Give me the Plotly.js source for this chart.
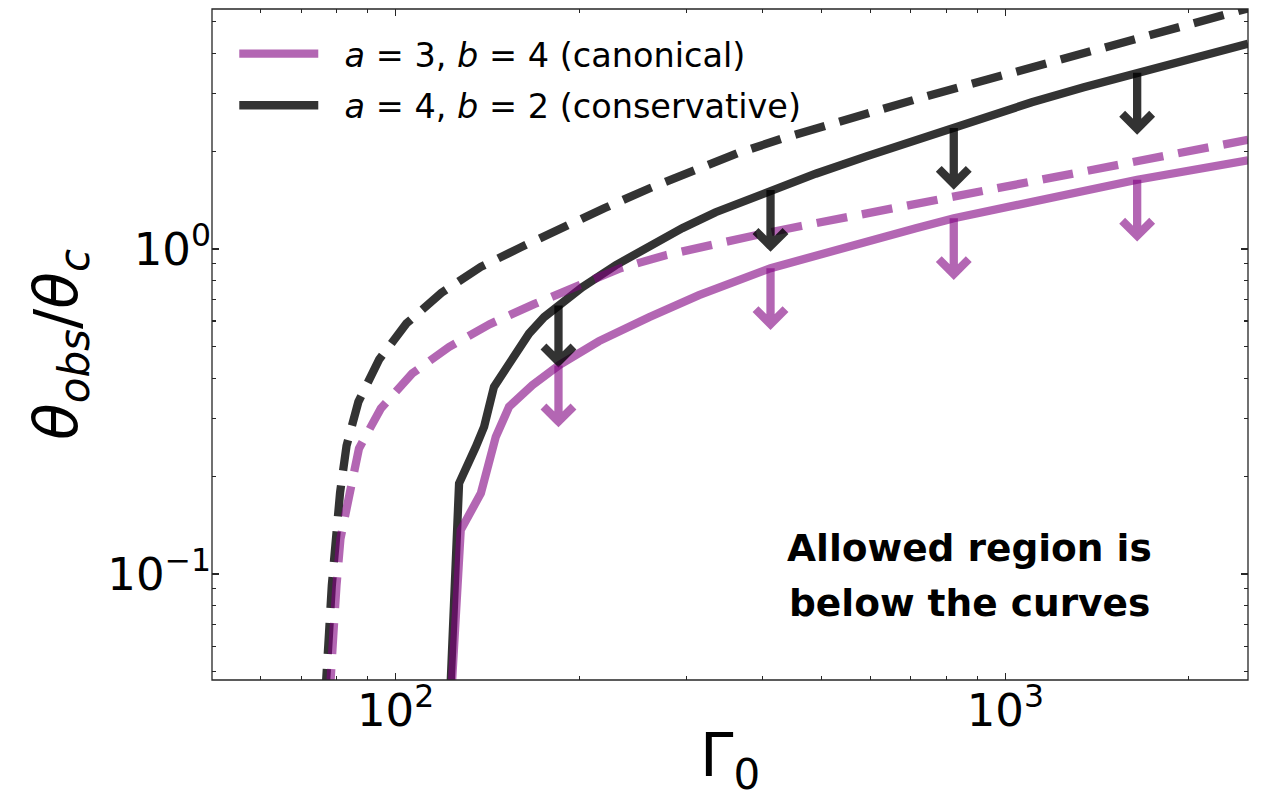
<!DOCTYPE html>
<html>
<head>
<meta charset="utf-8">
<script src="https://cdn.plot.ly/plotly-3.0.1.min.js"></script>
<style>html,body{margin:0;padding:0;background:#fff;}</style>
</head>
<body>
<div id="chart" style="width:1261px;height:797px;"></div>
<script>
// Upper limit on theta_obs/theta_c versus initial Lorentz factor Gamma_0.
// a = 4, b = 2 (conservative), dashed branch
const gammaConsDashed = [76.6, 76.85, 77.8, 78.6, 79.8, 81.1, 83.1, 86.9, 94.0, 104.2, 118.9, 138.0,
  160.4, 187.7, 220.3, 261.1, 308.6, 364.3, 431.8, 510.5, 602.6, 714.2, 844.6, 1001, 1181, 1397,
  1660, 1962, 2340, 2500];
const ratioConsDashed = [0.0410, 0.0501, 0.0662, 0.0920, 0.1281, 0.1783, 0.2480, 0.3386, 0.4571, 0.5898,
  0.7323, 0.8805, 1.011, 1.164, 1.336, 1.537, 1.754, 1.971, 2.189, 2.409, 2.638, 2.887, 3.151, 3.446,
  3.757, 4.098, 4.475, 4.873, 5.326, 5.495];

// a = 4, b = 2 (conservative), solid branch
const gammaConsSolid = [122.8, 127.1, 135.4, 139.7, 145.0, 155.4, 165.5, 175.2, 185.4, 202.4, 229.6,
  260.4, 295.2, 334.9, 412.2, 488.6, 590.0, 712.5, 823.4, 1105, 1345, 1645, 1999, 2500];
const ratioConsSolid = [0.0410, 0.190, 0.2462, 0.2837, 0.3764, 0.4613, 0.5489, 0.6166, 0.6714, 0.7626,
  0.8910, 1.023, 1.158, 1.297, 1.518, 1.703, 1.923, 2.162, 2.357, 2.825, 3.141, 3.480, 3.848, 4.274];

// a = 3, b = 4 (canonical), dashed branch
const gammaCanonDashed = [77.9, 78.2, 79.1, 80.0, 81.2, 84.1, 87.1, 94.6, 106.5, 122.4, 142.7, 168.7,
  197.9, 233.9, 277.3, 328.7, 389.5, 462.6, 550.4, 652.4, 770.0, 918.6, 1089, 1295, 1539, 1835, 2170, 2500];
const ratioCanonDashed = [0.0410, 0.0501, 0.0662, 0.0920, 0.1281, 0.1771, 0.2434, 0.3231, 0.414, 0.4996,
  0.587, 0.6761, 0.7679, 0.8725, 0.9564, 1.030, 1.102, 1.176, 1.254, 1.338, 1.423, 1.519, 1.617, 1.721,
  1.830, 1.948, 2.066, 2.166];

// a = 3, b = 4 (canonical), solid branch
const gammaCanonSolid = [123.3, 127.9, 138.0, 146.0, 153.5, 167.6, 185.4, 215.6, 260.4, 314.5, 412.2,
  489.0, 590.6, 713.3, 823.4, 1157, 1645, 2500];
const ratioCanonSolid = [0.0410, 0.1365, 0.1771, 0.2643, 0.3268, 0.3811, 0.4390, 0.5204, 0.6166, 0.7204,
  0.8725, 0.9564, 1.052, 1.158, 1.243, 1.421, 1.632, 1.874];

// Gamma_0 values where the "upper limit" arrows hang off the solid curves
const arrowGamma = [185, 412, 823, 1645];

const xTickVals = [100, 1000];
const xTickText = ['10<sup>2</sup>', '10<sup>3</sup>'];
const yTickVals = [0.1, 1];
const yTickText = ['10<sup>\u22121</sup>', '10<sup>0</sup>'];

const seriesNames = {
  canonical: '\u00A0\u00A0<i>a</i> = 3, <i>b</i> = 4 (canonical)',
  conservative: '\u00A0\u00A0<i>a</i> = 4, <i>b</i> = 2 (conservative)'
};
const xTitle = '\u0393<sub>0</sub>';
const yTitle = '<i>\u03B8<sub>obs</sub></i>/<i>\u03B8<sub>c</sub></i>';
const noteLines = ['Allowed region is', 'below the curves'];

// ---- styling ----
const COLOR_CANON = 'rgba(128,0,128,0.6)';
const COLOR_CONS = 'rgba(0,0,0,0.8)';
const LW = 8.3;
const DASH = '31px,15px';
const AXIS_COLOR = '#262626';
const FONT = 'DejaVu Sans, sans-serif';

const X_RANGE = [50, 2500];
const Y_RANGE = [0.0472, 5.47];

// arrow geometry in decades (log10 units)
const ARROW_DROP_DEC = 0.172;   // shaft length
const HEAD_DX_DEC = 0.0246;     // half-width of the chevron
const HEAD_DY_DEC = 0.0461;     // height of the chevron arms

function logInterp(xs, ys, x) {
  const lx = Math.log10(x);
  for (let i = 0; i < xs.length - 1; i++) {
    const l0 = Math.log10(xs[i]), l1 = Math.log10(xs[i + 1]);
    if (lx >= l0 && lx <= l1) {
      const t = (lx - l0) / (l1 - l0);
      return Math.pow(10, Math.log10(ys[i]) + t * (Math.log10(ys[i + 1]) - Math.log10(ys[i])));
    }
  }
  return ys[ys.length - 1];
}

function arrowTrace(xs, ys, color) {
  const px = [], py = [];
  arrowGamma.forEach(function (g, k) {
    const y0 = logInterp(xs, ys, g);
    const ly = Math.log10(y0) - ARROW_DROP_DEC;
    const tip = Math.pow(10, ly);
    const armY = Math.pow(10, ly + HEAD_DY_DEC);
    const left = Math.pow(10, Math.log10(g) - HEAD_DX_DEC);
    const right = Math.pow(10, Math.log10(g) + HEAD_DX_DEC);
    // one continuous stroke per arrow: shaft, left arm, back to tip, right arm
    px.push(g, g, left, g, right);
    py.push(y0, tip, armY, tip, armY);
    if (k < arrowGamma.length - 1) { px.push(null); py.push(null); }
  });
  return { px: px, py: py, color: color };
}

function minorTicks(lo, hi) {
  const out = [];
  for (let e = Math.floor(Math.log10(lo)); e <= Math.ceil(Math.log10(hi)); e++) {
    for (let d = 2; d <= 9; d++) {
      const v = d * Math.pow(10, e);
      if (v >= lo && v <= hi) out.push(v);
    }
  }
  return out;
}

const traces = [
  { x: gammaConsDashed, y: ratioConsDashed, mode: 'lines', showlegend: false, hoverinfo: 'skip',
    line: { color: COLOR_CONS, width: LW, dash: DASH } },
  { x: gammaConsSolid, y: ratioConsSolid, mode: 'lines', name: seriesNames.conservative,
    legendgroup: 'cons', legendrank: 2,
    line: { color: COLOR_CONS, width: LW } },
  { x: gammaCanonDashed, y: ratioCanonDashed, mode: 'lines', showlegend: false, hoverinfo: 'skip',
    line: { color: COLOR_CANON, width: LW, dash: DASH } },
  { x: gammaCanonSolid, y: ratioCanonSolid, mode: 'lines', name: seriesNames.canonical,
    legendgroup: 'canon', legendrank: 1,
    line: { color: COLOR_CANON, width: LW } }
];

[arrowTrace(gammaConsSolid, ratioConsSolid, COLOR_CONS),
 arrowTrace(gammaCanonSolid, ratioCanonSolid, COLOR_CANON)].forEach(function (a) {
  traces.push({ x: a.px, y: a.py, mode: 'lines', showlegend: false, hoverinfo: 'skip',
    connectgaps: false, line: { color: a.color, width: LW } });
});

const axisCommon = {
  type: 'log',
  ticks: 'inside', ticklen: 7, tickwidth: 1.3, tickcolor: AXIS_COLOR,
  showline: false, mirror: 'allticks',
  showgrid: false, zeroline: false,
  tickmode: 'array',
  tickfont: { family: FONT, size: 45, color: '#000' }
};

const layout = {
  width: 1261, height: 797,
  margin: { l: 212, r: 13, t: 9, b: 117 },
  paper_bgcolor: '#fff', plot_bgcolor: '#fff',
  font: { family: FONT, color: '#000' },
  xaxis: Object.assign({}, axisCommon, {
    range: [Math.log10(X_RANGE[0]), Math.log10(X_RANGE[1])],
    tickvals: xTickVals, ticktext: xTickText,
    minor: { tickmode: 'array', tickvals: minorTicks(X_RANGE[0], X_RANGE[1]), ticks: 'inside',
      ticklen: 4, tickwidth: 1.1, tickcolor: AXIS_COLOR, showgrid: false }
  }),
  yaxis: Object.assign({}, axisCommon, {
    range: [Math.log10(Y_RANGE[0]), Math.log10(Y_RANGE[1])],
    tickvals: yTickVals, ticktext: yTickText,
    minor: { tickmode: 'array', tickvals: minorTicks(Y_RANGE[0], Y_RANGE[1]), ticks: 'inside',
      ticklen: 4, tickwidth: 1.1, tickcolor: AXIS_COLOR, showgrid: false },
    title: { text: yTitle, font: { family: FONT, size: 60, color: '#000' }, standoff: 10 }
  }),
  legend: {
    x: 0.0215, y: 0.9755, xanchor: 'left', yanchor: 'top',
    bgcolor: 'rgba(0,0,0,0)', borderwidth: 0,
    itemwidth: 79, traceorder: 'grouped', tracegroupgap: 5,
    font: { family: FONT, size: 33.5, color: '#000' }
  },
  // frame around the plotting area
  shapes: [
    { type: 'rect', xref: 'paper', yref: 'paper', x0: 0, x1: 1, y0: 0, y1: 1,
      line: { color: AXIS_COLOR, width: 1.3 }, fillcolor: 'rgba(0,0,0,0)', layer: 'above' }
  ],
  annotations: [
    { text: xTitle, xref: 'paper', yref: 'paper', x: 0.5, y: -0.0566,
      xanchor: 'center', yanchor: 'top', showarrow: false,
      font: { family: FONT, size: 60, color: '#000' } },
    { text: '<b>' + noteLines[0] + '</b>', xref: 'paper', yref: 'paper', x: 0.731, y: 0.1966,
      xanchor: 'center', yanchor: 'middle', showarrow: false,
      font: { family: FONT, size: 37.5, color: '#000' } },
    { text: '<b>' + noteLines[1] + '</b>', xref: 'paper', yref: 'paper', x: 0.731, y: 0.1151,
      xanchor: 'center', yanchor: 'middle', showarrow: false,
      font: { family: FONT, size: 37.5, color: '#000' } }
  ]
};

Plotly.newPlot('chart', traces, layout, { staticPlot: true, displayModeBar: false });
</script>
</body>
</html>
